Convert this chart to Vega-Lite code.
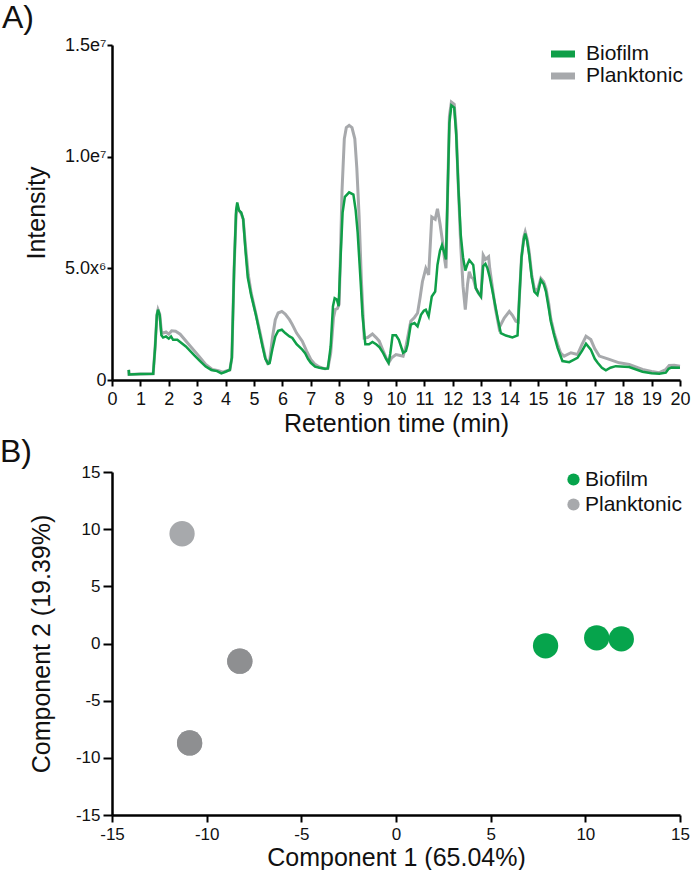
{
  "$schema": "https://vega.github.io/schema/vega-lite/v6.json",
  "padding": {"left": 0, "top": 2, "right": 0, "bottom": 0},
  "spacing": 0,
  "background": "white",
  "config": {
    "font": "Liberation Sans",
    "view": {"stroke": null},
    "axis": {
      "grid": false,
      "domainColor": "#000",
      "domainWidth": 2.5,
      "tickColor": "#000",
      "tickWidth": 2,
      "labelColor": "#111",
      "labelFont": "Liberation Sans",
      "titleColor": "#111",
      "titleFont": "Liberation Sans",
      "titleFontWeight": "normal",
      "titleFontSize": 25,
      "labelFlush": false,
      "labelOverlap": false
    },
    "legend": {"labelFont": "Liberation Sans", "labelFontSize": 21, "labelColor": "#111", "title": null},
    "title": {"font": "Liberation Sans", "fontSize": 32, "fontWeight": "normal", "color": "#111", "anchor": "start", "frame": "group"}
  },
  "resolve": {"scale": {"color": "independent"}, "legend": {"color": "independent"}},
  "datasets": {
    "chrom": [
      {"series": "Biofilm", "time": 0.59, "intensity": 0.45e6},
      {"series": "Biofilm", "time": 0.6, "intensity": 0.25e6},
      {"series": "Biofilm", "time": 1.0, "intensity": 0.27e6},
      {"series": "Biofilm", "time": 1.45, "intensity": 0.28e6},
      {"series": "Biofilm", "time": 1.52, "intensity": 1.5e6},
      {"series": "Biofilm", "time": 1.58, "intensity": 2.9e6},
      {"series": "Biofilm", "time": 1.62, "intensity": 3.15e6},
      {"series": "Biofilm", "time": 1.68, "intensity": 2.9e6},
      {"series": "Biofilm", "time": 1.74, "intensity": 2.0e6},
      {"series": "Biofilm", "time": 1.8, "intensity": 1.9e6},
      {"series": "Biofilm", "time": 1.9, "intensity": 1.95e6},
      {"series": "Biofilm", "time": 2.0, "intensity": 1.85e6},
      {"series": "Biofilm", "time": 2.08, "intensity": 1.95e6},
      {"series": "Biofilm", "time": 2.15, "intensity": 1.8e6},
      {"series": "Biofilm", "time": 2.3, "intensity": 1.8e6},
      {"series": "Biofilm", "time": 2.6, "intensity": 1.5e6},
      {"series": "Biofilm", "time": 2.9, "intensity": 1.1e6},
      {"series": "Biofilm", "time": 3.1, "intensity": 0.85e6},
      {"series": "Biofilm", "time": 3.3, "intensity": 0.6e6},
      {"series": "Biofilm", "time": 3.5, "intensity": 0.45e6},
      {"series": "Biofilm", "time": 3.7, "intensity": 0.4e6},
      {"series": "Biofilm", "time": 3.85, "intensity": 0.3e6},
      {"series": "Biofilm", "time": 4.0, "intensity": 0.37e6},
      {"series": "Biofilm", "time": 4.15, "intensity": 0.45e6},
      {"series": "Biofilm", "time": 4.22, "intensity": 1.0e6},
      {"series": "Biofilm", "time": 4.3, "intensity": 5.0e6},
      {"series": "Biofilm", "time": 4.37, "intensity": 7.6e6},
      {"series": "Biofilm", "time": 4.41, "intensity": 7.95e6},
      {"series": "Biofilm", "time": 4.47, "intensity": 7.6e6},
      {"series": "Biofilm", "time": 4.55, "intensity": 7.5e6},
      {"series": "Biofilm", "time": 4.62, "intensity": 7.2e6},
      {"series": "Biofilm", "time": 4.7, "intensity": 5.8e6},
      {"series": "Biofilm", "time": 4.78, "intensity": 4.6e6},
      {"series": "Biofilm", "time": 4.9, "intensity": 3.8e6},
      {"series": "Biofilm", "time": 5.06, "intensity": 2.95e6},
      {"series": "Biofilm", "time": 5.2, "intensity": 2.1e6},
      {"series": "Biofilm", "time": 5.3, "intensity": 1.5e6},
      {"series": "Biofilm", "time": 5.4, "intensity": 0.95e6},
      {"series": "Biofilm", "time": 5.5, "intensity": 0.72e6},
      {"series": "Biofilm", "time": 5.55, "intensity": 0.75e6},
      {"series": "Biofilm", "time": 5.65, "intensity": 1.4e6},
      {"series": "Biofilm", "time": 5.75, "intensity": 1.95e6},
      {"series": "Biofilm", "time": 5.85, "intensity": 2.2e6},
      {"series": "Biofilm", "time": 5.98, "intensity": 2.25e6},
      {"series": "Biofilm", "time": 6.1, "intensity": 2.1e6},
      {"series": "Biofilm", "time": 6.25, "intensity": 1.95e6},
      {"series": "Biofilm", "time": 6.35, "intensity": 1.88e6},
      {"series": "Biofilm", "time": 6.5, "intensity": 1.6e6},
      {"series": "Biofilm", "time": 6.7, "intensity": 1.36e6},
      {"series": "Biofilm", "time": 6.8, "intensity": 1.2e6},
      {"series": "Biofilm", "time": 6.9, "intensity": 0.95e6},
      {"series": "Biofilm", "time": 7.0, "intensity": 0.77e6},
      {"series": "Biofilm", "time": 7.15, "intensity": 0.6e6},
      {"series": "Biofilm", "time": 7.3, "intensity": 0.55e6},
      {"series": "Biofilm", "time": 7.5, "intensity": 0.5e6},
      {"series": "Biofilm", "time": 7.6, "intensity": 0.52e6},
      {"series": "Biofilm", "time": 7.7, "intensity": 1.5e6},
      {"series": "Biofilm", "time": 7.78, "intensity": 3.3e6},
      {"series": "Biofilm", "time": 7.84, "intensity": 3.66e6},
      {"series": "Biofilm", "time": 7.92, "intensity": 3.6e6},
      {"series": "Biofilm", "time": 7.98, "intensity": 3.3e6},
      {"series": "Biofilm", "time": 8.05, "intensity": 5.5e6},
      {"series": "Biofilm", "time": 8.12, "intensity": 7.5e6},
      {"series": "Biofilm", "time": 8.2, "intensity": 8.2e6},
      {"series": "Biofilm", "time": 8.35, "intensity": 8.4e6},
      {"series": "Biofilm", "time": 8.5, "intensity": 8.3e6},
      {"series": "Biofilm", "time": 8.58, "intensity": 7.6e6},
      {"series": "Biofilm", "time": 8.65, "intensity": 6.6e6},
      {"series": "Biofilm", "time": 8.75, "intensity": 4.5e6},
      {"series": "Biofilm", "time": 8.82, "intensity": 2.9e6},
      {"series": "Biofilm", "time": 8.92, "intensity": 1.6e6},
      {"series": "Biofilm", "time": 9.05, "intensity": 1.6e6},
      {"series": "Biofilm", "time": 9.17, "intensity": 1.7e6},
      {"series": "Biofilm", "time": 9.3, "intensity": 1.6e6},
      {"series": "Biofilm", "time": 9.41, "intensity": 1.48e6},
      {"series": "Biofilm", "time": 9.55, "intensity": 1.2e6},
      {"series": "Biofilm", "time": 9.65, "intensity": 0.95e6},
      {"series": "Biofilm", "time": 9.74, "intensity": 0.77e6},
      {"series": "Biofilm", "time": 9.8, "intensity": 1.2e6},
      {"series": "Biofilm", "time": 9.88, "intensity": 2.0e6},
      {"series": "Biofilm", "time": 10.0, "intensity": 2.0e6},
      {"series": "Biofilm", "time": 10.1, "intensity": 1.8e6},
      {"series": "Biofilm", "time": 10.25, "intensity": 1.22e6},
      {"series": "Biofilm", "time": 10.35, "intensity": 1.3e6},
      {"series": "Biofilm", "time": 10.41, "intensity": 1.59e6},
      {"series": "Biofilm", "time": 10.52, "intensity": 2.48e6},
      {"series": "Biofilm", "time": 10.65, "intensity": 2.55e6},
      {"series": "Biofilm", "time": 10.76, "intensity": 2.4e6},
      {"series": "Biofilm", "time": 10.88, "intensity": 2.92e6},
      {"series": "Biofilm", "time": 10.98, "intensity": 3.1e6},
      {"series": "Biofilm", "time": 11.05, "intensity": 3.15e6},
      {"series": "Biofilm", "time": 11.15, "intensity": 2.85e6},
      {"series": "Biofilm", "time": 11.26, "intensity": 3.74e6},
      {"series": "Biofilm", "time": 11.38, "intensity": 3.96e6},
      {"series": "Biofilm", "time": 11.46, "intensity": 5.15e6},
      {"series": "Biofilm", "time": 11.55, "intensity": 5.8e6},
      {"series": "Biofilm", "time": 11.62, "intensity": 6.04e6},
      {"series": "Biofilm", "time": 11.7, "intensity": 5.7e6},
      {"series": "Biofilm", "time": 11.76, "intensity": 5.4e6},
      {"series": "Biofilm", "time": 11.82, "intensity": 8.5e6},
      {"series": "Biofilm", "time": 11.88, "intensity": 11.5e6},
      {"series": "Biofilm", "time": 11.95, "intensity": 12.3e6},
      {"series": "Biofilm", "time": 12.05, "intensity": 12.2e6},
      {"series": "Biofilm", "time": 12.12, "intensity": 11.0e6},
      {"series": "Biofilm", "time": 12.2, "intensity": 8.5e6},
      {"series": "Biofilm", "time": 12.28, "intensity": 6.5e6},
      {"series": "Biofilm", "time": 12.36, "intensity": 5.5e6},
      {"series": "Biofilm", "time": 12.44, "intensity": 4.9e6},
      {"series": "Biofilm", "time": 12.52, "intensity": 5.2e6},
      {"series": "Biofilm", "time": 12.58, "intensity": 5.37e6},
      {"series": "Biofilm", "time": 12.72, "intensity": 5.15e6},
      {"series": "Biofilm", "time": 12.81, "intensity": 4.11e6},
      {"series": "Biofilm", "time": 12.9, "intensity": 3.9e6},
      {"series": "Biofilm", "time": 12.99, "intensity": 3.74e6},
      {"series": "Biofilm", "time": 13.07, "intensity": 5.1e6},
      {"series": "Biofilm", "time": 13.15, "intensity": 5.2e6},
      {"series": "Biofilm", "time": 13.22, "intensity": 5.0e6},
      {"series": "Biofilm", "time": 13.3, "intensity": 4.6e6},
      {"series": "Biofilm", "time": 13.4, "intensity": 3.96e6},
      {"series": "Biofilm", "time": 13.5, "intensity": 3.3e6},
      {"series": "Biofilm", "time": 13.58, "intensity": 2.77e6},
      {"series": "Biofilm", "time": 13.69, "intensity": 2.1e6},
      {"series": "Biofilm", "time": 13.87, "intensity": 1.99e6},
      {"series": "Biofilm", "time": 14.1, "intensity": 1.91e6},
      {"series": "Biofilm", "time": 14.28, "intensity": 2.0e6},
      {"series": "Biofilm", "time": 14.34, "intensity": 3.6e6},
      {"series": "Biofilm", "time": 14.42, "intensity": 5.5e6},
      {"series": "Biofilm", "time": 14.5, "intensity": 6.3e6},
      {"series": "Biofilm", "time": 14.55, "intensity": 6.56e6},
      {"series": "Biofilm", "time": 14.62, "intensity": 6.2e6},
      {"series": "Biofilm", "time": 14.69, "intensity": 5.59e6},
      {"series": "Biofilm", "time": 14.78, "intensity": 4.6e6},
      {"series": "Biofilm", "time": 14.87, "intensity": 3.96e6},
      {"series": "Biofilm", "time": 14.98, "intensity": 3.81e6},
      {"series": "Biofilm", "time": 15.1, "intensity": 4.48e6},
      {"series": "Biofilm", "time": 15.2, "intensity": 4.3e6},
      {"series": "Biofilm", "time": 15.28, "intensity": 3.96e6},
      {"series": "Biofilm", "time": 15.38, "intensity": 3.2e6},
      {"series": "Biofilm", "time": 15.45, "intensity": 2.63e6},
      {"series": "Biofilm", "time": 15.57, "intensity": 2.0e6},
      {"series": "Biofilm", "time": 15.69, "intensity": 1.44e6},
      {"series": "Biofilm", "time": 15.86, "intensity": 0.85e6},
      {"series": "Biofilm", "time": 16.1, "intensity": 0.8e6},
      {"series": "Biofilm", "time": 16.39, "intensity": 0.99e6},
      {"series": "Biofilm", "time": 16.55, "intensity": 1.3e6},
      {"series": "Biofilm", "time": 16.69, "intensity": 1.62e6},
      {"series": "Biofilm", "time": 16.86, "intensity": 1.36e6},
      {"series": "Biofilm", "time": 17.0, "intensity": 0.95e6},
      {"series": "Biofilm", "time": 17.1, "intensity": 0.77e6},
      {"series": "Biofilm", "time": 17.25, "intensity": 0.55e6},
      {"series": "Biofilm", "time": 17.39, "intensity": 0.43e6},
      {"series": "Biofilm", "time": 17.55, "intensity": 0.55e6},
      {"series": "Biofilm", "time": 17.74, "intensity": 0.62e6},
      {"series": "Biofilm", "time": 18.21, "intensity": 0.58e6},
      {"series": "Biofilm", "time": 18.68, "intensity": 0.37e6},
      {"series": "Biofilm", "time": 19.0, "intensity": 0.3e6},
      {"series": "Biofilm", "time": 19.27, "intensity": 0.28e6},
      {"series": "Biofilm", "time": 19.5, "intensity": 0.33e6},
      {"series": "Biofilm", "time": 19.6, "intensity": 0.5e6},
      {"series": "Biofilm", "time": 19.7, "intensity": 0.56e6},
      {"series": "Biofilm", "time": 20.0, "intensity": 0.55e6},
      {"series": "Planktonic", "time": 0.59, "intensity": 0.45e6},
      {"series": "Planktonic", "time": 0.6, "intensity": 0.25e6},
      {"series": "Planktonic", "time": 1.0, "intensity": 0.27e6},
      {"series": "Planktonic", "time": 1.45, "intensity": 0.28e6},
      {"series": "Planktonic", "time": 1.52, "intensity": 1.5e6},
      {"series": "Planktonic", "time": 1.58, "intensity": 2.9e6},
      {"series": "Planktonic", "time": 1.62, "intensity": 3.15e6},
      {"series": "Planktonic", "time": 1.68, "intensity": 2.95e6},
      {"series": "Planktonic", "time": 1.74, "intensity": 2.15e6},
      {"series": "Planktonic", "time": 1.8, "intensity": 2.1e6},
      {"series": "Planktonic", "time": 1.9, "intensity": 2.15e6},
      {"series": "Planktonic", "time": 2.0, "intensity": 2.05e6},
      {"series": "Planktonic", "time": 2.1, "intensity": 2.2e6},
      {"series": "Planktonic", "time": 2.24, "intensity": 2.18e6},
      {"series": "Planktonic", "time": 2.4, "intensity": 2.05e6},
      {"series": "Planktonic", "time": 2.7, "intensity": 1.6e6},
      {"series": "Planktonic", "time": 3.06, "intensity": 1.07e6},
      {"series": "Planktonic", "time": 3.3, "intensity": 0.7e6},
      {"series": "Planktonic", "time": 3.53, "intensity": 0.47e6},
      {"series": "Planktonic", "time": 3.75, "intensity": 0.42e6},
      {"series": "Planktonic", "time": 3.9, "intensity": 0.35e6},
      {"series": "Planktonic", "time": 4.0, "intensity": 0.4e6},
      {"series": "Planktonic", "time": 4.15, "intensity": 0.45e6},
      {"series": "Planktonic", "time": 4.22, "intensity": 1.0e6},
      {"series": "Planktonic", "time": 4.3, "intensity": 5.0e6},
      {"series": "Planktonic", "time": 4.37, "intensity": 7.4e6},
      {"series": "Planktonic", "time": 4.41, "intensity": 7.75e6},
      {"series": "Planktonic", "time": 4.47, "intensity": 7.6e6},
      {"series": "Planktonic", "time": 4.55, "intensity": 7.45e6},
      {"series": "Planktonic", "time": 4.62, "intensity": 7.2e6},
      {"series": "Planktonic", "time": 4.7, "intensity": 6.0e6},
      {"series": "Planktonic", "time": 4.8, "intensity": 4.7e6},
      {"series": "Planktonic", "time": 4.9, "intensity": 3.9e6},
      {"series": "Planktonic", "time": 5.06, "intensity": 3.0e6},
      {"series": "Planktonic", "time": 5.2, "intensity": 2.2e6},
      {"series": "Planktonic", "time": 5.3, "intensity": 1.6e6},
      {"series": "Planktonic", "time": 5.4, "intensity": 1.0e6},
      {"series": "Planktonic", "time": 5.47, "intensity": 0.77e6},
      {"series": "Planktonic", "time": 5.55, "intensity": 0.85e6},
      {"series": "Planktonic", "time": 5.65, "intensity": 1.9e6},
      {"series": "Planktonic", "time": 5.75, "intensity": 2.7e6},
      {"series": "Planktonic", "time": 5.85, "intensity": 3.0e6},
      {"series": "Planktonic", "time": 5.98, "intensity": 3.07e6},
      {"series": "Planktonic", "time": 6.1, "intensity": 2.95e6},
      {"series": "Planktonic", "time": 6.25, "intensity": 2.7e6},
      {"series": "Planktonic", "time": 6.35, "intensity": 2.48e6},
      {"series": "Planktonic", "time": 6.5, "intensity": 2.1e6},
      {"series": "Planktonic", "time": 6.7, "intensity": 1.74e6},
      {"series": "Planktonic", "time": 6.85, "intensity": 1.3e6},
      {"series": "Planktonic", "time": 7.0, "intensity": 0.92e6},
      {"series": "Planktonic", "time": 7.15, "intensity": 0.7e6},
      {"series": "Planktonic", "time": 7.3, "intensity": 0.58e6},
      {"series": "Planktonic", "time": 7.5, "intensity": 0.5e6},
      {"series": "Planktonic", "time": 7.6, "intensity": 0.52e6},
      {"series": "Planktonic", "time": 7.7, "intensity": 1.2e6},
      {"series": "Planktonic", "time": 7.8, "intensity": 2.8e6},
      {"series": "Planktonic", "time": 7.86, "intensity": 3.15e6},
      {"series": "Planktonic", "time": 7.94, "intensity": 3.2e6},
      {"series": "Planktonic", "time": 8.0, "intensity": 3.4e6},
      {"series": "Planktonic", "time": 8.1, "intensity": 8.5e6},
      {"series": "Planktonic", "time": 8.18, "intensity": 10.8e6},
      {"series": "Planktonic", "time": 8.25, "intensity": 11.3e6},
      {"series": "Planktonic", "time": 8.35, "intensity": 11.4e6},
      {"series": "Planktonic", "time": 8.45, "intensity": 11.3e6},
      {"series": "Planktonic", "time": 8.55, "intensity": 10.8e6},
      {"series": "Planktonic", "time": 8.62, "intensity": 9.5e6},
      {"series": "Planktonic", "time": 8.7, "intensity": 7.37e6},
      {"series": "Planktonic", "time": 8.78, "intensity": 4.5e6},
      {"series": "Planktonic", "time": 8.88, "intensity": 1.88e6},
      {"series": "Planktonic", "time": 9.0, "intensity": 1.9e6},
      {"series": "Planktonic", "time": 9.17, "intensity": 2.06e6},
      {"series": "Planktonic", "time": 9.3, "intensity": 1.9e6},
      {"series": "Planktonic", "time": 9.41, "intensity": 1.74e6},
      {"series": "Planktonic", "time": 9.55, "intensity": 1.3e6},
      {"series": "Planktonic", "time": 9.65, "intensity": 1.0e6},
      {"series": "Planktonic", "time": 9.74, "intensity": 0.77e6},
      {"series": "Planktonic", "time": 9.85, "intensity": 1.0e6},
      {"series": "Planktonic", "time": 10.0, "intensity": 1.14e6},
      {"series": "Planktonic", "time": 10.15, "intensity": 1.1e6},
      {"series": "Planktonic", "time": 10.25, "intensity": 1.07e6},
      {"series": "Planktonic", "time": 10.35, "intensity": 1.5e6},
      {"series": "Planktonic", "time": 10.52, "intensity": 2.63e6},
      {"series": "Planktonic", "time": 10.65, "intensity": 2.8e6},
      {"series": "Planktonic", "time": 10.76, "intensity": 3.0e6},
      {"series": "Planktonic", "time": 10.85, "intensity": 3.7e6},
      {"series": "Planktonic", "time": 10.93, "intensity": 4.4e6},
      {"series": "Planktonic", "time": 11.05, "intensity": 5.0e6},
      {"series": "Planktonic", "time": 11.15, "intensity": 4.7e6},
      {"series": "Planktonic", "time": 11.26, "intensity": 7.3e6},
      {"series": "Planktonic", "time": 11.38, "intensity": 7.2e6},
      {"series": "Planktonic", "time": 11.46, "intensity": 7.67e6},
      {"series": "Planktonic", "time": 11.55, "intensity": 7.0e6},
      {"series": "Planktonic", "time": 11.64, "intensity": 6.19e6},
      {"series": "Planktonic", "time": 11.7, "intensity": 5.5e6},
      {"series": "Planktonic", "time": 11.76, "intensity": 5.0e6},
      {"series": "Planktonic", "time": 11.82, "intensity": 8.5e6},
      {"series": "Planktonic", "time": 11.88, "intensity": 11.8e6},
      {"series": "Planktonic", "time": 11.95, "intensity": 12.45e6},
      {"series": "Planktonic", "time": 12.05, "intensity": 12.35e6},
      {"series": "Planktonic", "time": 12.12, "intensity": 11.2e6},
      {"series": "Planktonic", "time": 12.2, "intensity": 8.5e6},
      {"series": "Planktonic", "time": 12.28, "intensity": 6.0e6},
      {"series": "Planktonic", "time": 12.36, "intensity": 4.2e6},
      {"series": "Planktonic", "time": 12.44, "intensity": 3.15e6},
      {"series": "Planktonic", "time": 12.52, "intensity": 4.3e6},
      {"series": "Planktonic", "time": 12.58, "intensity": 4.85e6},
      {"series": "Planktonic", "time": 12.65, "intensity": 4.6e6},
      {"series": "Planktonic", "time": 12.72, "intensity": 4.55e6},
      {"series": "Planktonic", "time": 12.81, "intensity": 4.11e6},
      {"series": "Planktonic", "time": 12.9, "intensity": 3.9e6},
      {"series": "Planktonic", "time": 12.99, "intensity": 3.74e6},
      {"series": "Planktonic", "time": 13.07, "intensity": 5.59e6},
      {"series": "Planktonic", "time": 13.15, "intensity": 5.4e6},
      {"series": "Planktonic", "time": 13.26, "intensity": 5.52e6},
      {"series": "Planktonic", "time": 13.3, "intensity": 5.0e6},
      {"series": "Planktonic", "time": 13.4, "intensity": 4.1e6},
      {"series": "Planktonic", "time": 13.5, "intensity": 3.2e6},
      {"series": "Planktonic", "time": 13.63, "intensity": 2.33e6},
      {"series": "Planktonic", "time": 13.81, "intensity": 2.77e6},
      {"series": "Planktonic", "time": 13.99, "intensity": 3.07e6},
      {"series": "Planktonic", "time": 14.1, "intensity": 2.9e6},
      {"series": "Planktonic", "time": 14.22, "intensity": 2.63e6},
      {"series": "Planktonic", "time": 14.3, "intensity": 2.6e6},
      {"series": "Planktonic", "time": 14.34, "intensity": 3.6e6},
      {"series": "Planktonic", "time": 14.42, "intensity": 5.5e6},
      {"series": "Planktonic", "time": 14.5, "intensity": 6.4e6},
      {"series": "Planktonic", "time": 14.55, "intensity": 6.63e6},
      {"series": "Planktonic", "time": 14.62, "intensity": 6.3e6},
      {"series": "Planktonic", "time": 14.69, "intensity": 5.73e6},
      {"series": "Planktonic", "time": 14.78, "intensity": 4.7e6},
      {"series": "Planktonic", "time": 14.87, "intensity": 4.1e6},
      {"series": "Planktonic", "time": 14.98, "intensity": 4.0e6},
      {"series": "Planktonic", "time": 15.1, "intensity": 4.55e6},
      {"series": "Planktonic", "time": 15.2, "intensity": 4.4e6},
      {"series": "Planktonic", "time": 15.28, "intensity": 4.1e6},
      {"series": "Planktonic", "time": 15.38, "intensity": 3.4e6},
      {"series": "Planktonic", "time": 15.45, "intensity": 2.75e6},
      {"series": "Planktonic", "time": 15.57, "intensity": 2.1e6},
      {"series": "Planktonic", "time": 15.69, "intensity": 1.6e6},
      {"series": "Planktonic", "time": 15.8, "intensity": 1.2e6},
      {"series": "Planktonic", "time": 15.92, "intensity": 1.07e6},
      {"series": "Planktonic", "time": 16.16, "intensity": 1.22e6},
      {"series": "Planktonic", "time": 16.39, "intensity": 1.14e6},
      {"series": "Planktonic", "time": 16.55, "intensity": 1.6e6},
      {"series": "Planktonic", "time": 16.69, "intensity": 1.96e6},
      {"series": "Planktonic", "time": 16.86, "intensity": 1.81e6},
      {"series": "Planktonic", "time": 17.0, "intensity": 1.4e6},
      {"series": "Planktonic", "time": 17.16, "intensity": 1.07e6},
      {"series": "Planktonic", "time": 17.51, "intensity": 0.92e6},
      {"series": "Planktonic", "time": 17.86, "intensity": 0.77e6},
      {"series": "Planktonic", "time": 18.21, "intensity": 0.7e6},
      {"series": "Planktonic", "time": 18.68, "intensity": 0.47e6},
      {"series": "Planktonic", "time": 19.0, "intensity": 0.38e6},
      {"series": "Planktonic", "time": 19.27, "intensity": 0.33e6},
      {"series": "Planktonic", "time": 19.5, "intensity": 0.47e6},
      {"series": "Planktonic", "time": 19.62, "intensity": 0.65e6},
      {"series": "Planktonic", "time": 19.8, "intensity": 0.66e6},
      {"series": "Planktonic", "time": 20.0, "intensity": 0.62e6}
    ],
    "pca": [
      {"group": "Planktonic", "replicate": 1, "pc1": -11.3, "pc2": 9.6},
      {"group": "Planktonic", "replicate": 2, "pc1": -8.25, "pc2": -1.55},
      {"group": "Planktonic", "replicate": 3, "pc1": -10.9, "pc2": -8.7},
      {"group": "Biofilm", "replicate": 1, "pc1": 7.9, "pc2": -0.2},
      {"group": "Biofilm", "replicate": 2, "pc1": 10.6, "pc2": 0.5},
      {"group": "Biofilm", "replicate": 3, "pc1": 11.9, "pc2": 0.4}
    ]
  },
  "vconcat": [
    {
      "title": {"text": "A)", "dx": -110, "offset": 1},
      "width": 568,
      "height": 335,
      "data": {"name": "chrom"},
      "encoding": {
        "x": {
          "field": "time", "type": "quantitative",
          "scale": {"domain": [0, 20], "nice": false},
          "axis": {"values": [0,1,2,3,4,5,6,7,8,9,10,11,12,13,14,15,16,17,18,19,20], "title": "Retention time (min)", "labelFontSize": 18, "tickSize": 6, "labelPadding": 4, "titlePadding": 3}
        },
        "y": {
          "field": "intensity", "type": "quantitative",
          "scale": {"domain": [0, 15000000], "nice": false},
          "axis": {"values": [0, 5000000, 10000000, 15000000], "labelExpr": "datum.value == 0 ? '0' : datum.value == 5000000 ? '5.0x⁶' : datum.value == 10000000 ? '1.0e⁷' : '1.5e⁷'", "title": "Intensity", "labelFontSize": 18, "tickSize": 5, "labelPadding": 1, "titlePadding": 15}
        },
        "color": {
          "field": "series", "type": "nominal",
          "scale": {"domain": ["Biofilm", "Planktonic"], "range": ["#0f9f48", "#a7a9ac"]},
          "legend": {"orient": "none", "legendX": 439, "legendY": -1, "symbolType": "M-2.7,0L2.7,0", "symbolStrokeWidth": 7, "symbolSize": 100, "clipHeight": 20, "rowPadding": 1, "padding": 0, "labelOffset": 14}
        }
      },
      "layer": [
        {"transform": [{"filter": "datum.series == 'Planktonic'"}], "mark": {"type": "line", "strokeWidth": 3}},
        {"transform": [{"filter": "datum.series == 'Biofilm'"}], "mark": {"type": "line", "strokeWidth": 2.5}}
      ]
    },
    {
      "title": {"text": "B)", "dx": -112, "offset": -6},
      "width": 568,
      "height": 343,
      "data": {"name": "pca"},
      "encoding": {
        "x": {
          "field": "pc1", "type": "quantitative",
          "scale": {"domain": [-15, 15], "nice": false},
          "axis": {"values": [-15,-10,-5,0,5,10,15], "labelExpr": "datum.value < 0 ? '-' + abs(datum.value) : '' + datum.value", "title": "Component 1 (65.04%)", "labelFontSize": 17, "tickSize": 7, "labelPadding": 4, "titlePadding": 3}
        },
        "y": {
          "field": "pc2", "type": "quantitative",
          "scale": {"domain": [-15, 15], "nice": false},
          "axis": {"values": [-15,-10,-5,0,5,10,15], "labelExpr": "datum.value < 0 ? '-' + abs(datum.value) : '' + datum.value", "title": "Component 2 (19.39%)", "labelFontSize": 17, "tickSize": 9, "labelPadding": 3, "titlePadding": 21}
        }
      },
      "layer": [
        {
          "mark": {"type": "circle", "size": 640, "opacity": 1},
          "encoding": {
            "color": {
              "field": "group", "type": "nominal",
              "scale": {"domain": ["Biofilm", "Planktonic"], "range": ["#06a44c", "#a7a9ac"]},
              "legend": {"orient": "none", "legendX": 451, "legendY": -3, "symbolType": "circle", "symbolSize": 150, "symbolOpacity": 1, "rowPadding": 3, "padding": 0, "labelOffset": 1}
            }
          }
        },
        {
          "transform": [{"filter": "datum.group == 'Planktonic' && datum.replicate != 1"}],
          "mark": {"type": "circle", "size": 640, "opacity": 1, "color": "#8e8f91"}
        }
      ]
    }
  ]
}
